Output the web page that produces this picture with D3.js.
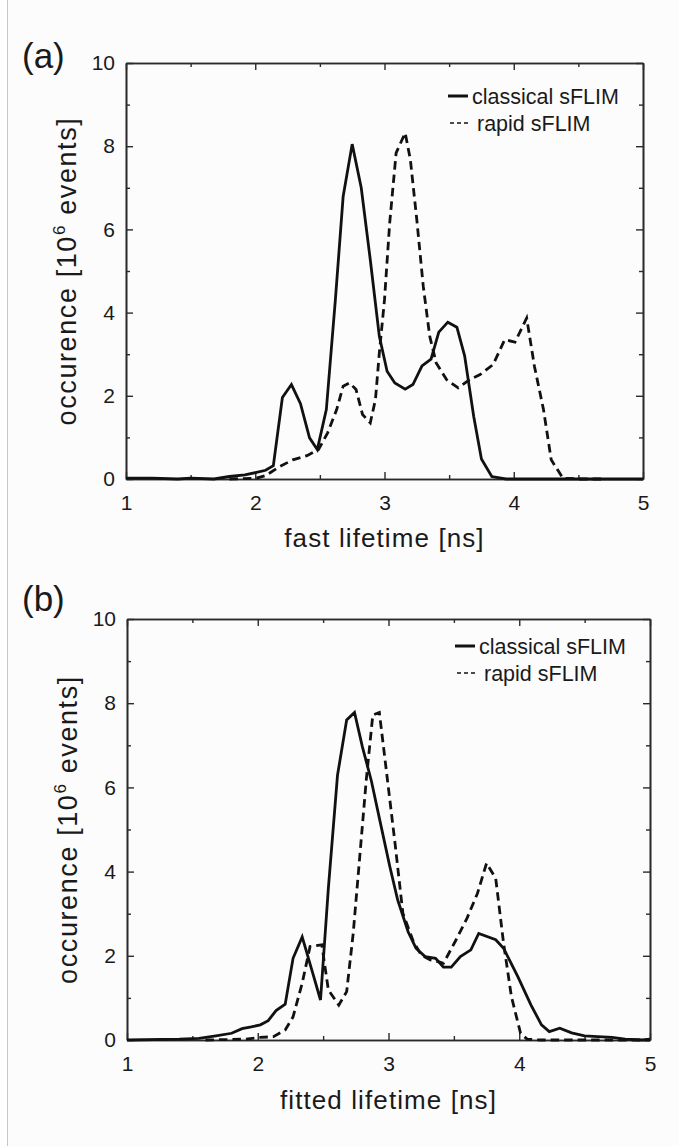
<!DOCTYPE html>
<html lang="en">
  <head>
    <meta charset="UTF-8" />
    <title>sFLIM lifetime histograms</title>
    <style>
      body { margin: 0; background: #ffffff; }
      text { font-family: "Liberation Sans", Arial, sans-serif; fill: #1a1a1a; }
    </style>
  </head>
  <body>
    <div id="chart"></div>
    <script src="https://d3js.org/d3.v7.min.js"></script>
    <script>
      // tick values
      var xTicks = [1, 2, 3, 4, 5];
      var xMinor = [1.5, 2.5, 3.5, 4.5];
      var yTicks = [0, 2, 4, 6, 8, 10];
      var yMinor = [1, 3, 5, 7, 9];
      var seriesNames = ["classical sFLIM", "rapid sFLIM"];

      // (a) fast lifetime
      var aClassicalT = [1.0, 1.2, 1.4, 1.5, 1.68, 1.8, 1.92, 2.01, 2.08, 2.14, 2.21, 2.28, 2.35, 2.42, 2.48, 2.55, 2.62, 2.68, 2.75, 2.82, 2.89, 2.96, 3.02, 3.08, 3.16, 3.22, 3.29, 3.36, 3.42, 3.49, 3.56, 3.62, 3.69, 3.75, 3.83, 3.94, 4.2, 5.0];
      var aClassicalV = [0.02, 0.02, 0.0, 0.02, 0.0, 0.06, 0.1, 0.16, 0.21, 0.32, 1.96, 2.27, 1.81, 0.99, 0.71, 1.67, 4.31, 6.79, 8.05, 7.0, 5.27, 3.43, 2.59, 2.31, 2.16, 2.27, 2.72, 2.88, 3.53, 3.77, 3.65, 2.96, 1.51, 0.48, 0.06, 0.0, 0.0, 0.0];
      var aRapidT = [1.8, 2.01, 2.08, 2.19, 2.29, 2.4, 2.49, 2.56, 2.63, 2.68, 2.73, 2.78, 2.83, 2.89, 2.93, 2.96, 3.0, 3.04, 3.09, 3.16, 3.2, 3.25, 3.3, 3.35, 3.4, 3.48, 3.57, 3.66, 3.74, 3.84, 3.93, 4.01, 4.1, 4.16, 4.23, 4.29, 4.38, 4.51, 4.7];
      var aRapidV = [0.0, 0.02, 0.08, 0.3, 0.46, 0.56, 0.71, 1.11, 1.67, 2.23, 2.31, 2.15, 1.55, 1.35, 1.91, 3.03, 4.31, 6.15, 7.84, 8.32, 7.68, 6.23, 4.63, 3.43, 2.79, 2.39, 2.19, 2.39, 2.51, 2.75, 3.35, 3.29, 3.87, 2.71, 1.67, 0.46, 0.02, 0.0, 0.0];

      // (b) fitted lifetime
      var bClassicalT = [1.0, 1.4, 1.55, 1.68, 1.8, 1.88, 1.95, 2.02, 2.08, 2.14, 2.21, 2.27, 2.34, 2.41, 2.48, 2.54, 2.61, 2.68, 2.74, 2.8, 2.87, 2.93, 3.01, 3.07, 3.15, 3.21, 3.28, 3.36, 3.42, 3.48, 3.55, 3.63, 3.69, 3.82, 3.88, 3.99, 4.09, 4.17, 4.23, 4.31, 4.4, 4.5, 4.6, 4.71, 4.81, 4.94, 5.0];
      var bClassicalV = [0.0, 0.02, 0.04, 0.1, 0.16, 0.27, 0.31, 0.36, 0.46, 0.7, 0.85, 1.94, 2.45, 1.7, 0.95, 3.6, 6.29, 7.6, 7.78, 6.97, 6.14, 5.27, 4.12, 3.33, 2.57, 2.18, 1.98, 1.94, 1.73, 1.73, 1.98, 2.14, 2.53, 2.38, 2.18, 1.5, 0.83, 0.36, 0.2, 0.28, 0.17, 0.1, 0.08, 0.06, 0.02, 0.0, 0.02];
      var bRapidT = [1.6, 1.91, 2.02, 2.12, 2.21, 2.27, 2.34, 2.4, 2.49, 2.54, 2.62, 2.68, 2.73, 2.78, 2.83, 2.88, 2.93, 2.98, 3.05, 3.11, 3.19, 3.25, 3.32, 3.38, 3.42, 3.51, 3.6, 3.68, 3.75, 3.82, 3.88, 3.94, 4.01, 4.06, 4.16, 5.0];
      var bRapidV = [0.0, 0.02, 0.06, 0.08, 0.24, 0.55, 1.35, 2.22, 2.26, 1.19, 0.83, 1.15, 2.53, 4.35, 6.18, 7.72, 7.78, 6.49, 4.67, 3.01, 2.34, 2.02, 1.9, 1.86, 1.82, 2.34, 2.89, 3.48, 4.2, 3.84, 2.3, 1.03, 0.16, 0.02, 0.0, 0.0];

      var W = 679, H = 1146;

      var svg = d3
        .select("#chart")
        .append("svg")
        .attr("width", W)
        .attr("height", H);

      // page background + thin grey rule at the left edge
      svg.append("rect").attr("x", 7).attr("y", 0).attr("width", W - 7).attr("height", H).attr("fill", "#fcfcfc");
      svg.append("line").attr("x1", 7.5).attr("x2", 7.5).attr("y1", 0).attr("y2", H)
        .attr("stroke", "#c8c8c8").attr("stroke-width", 1);

      const drawPanel = (p) => {
        var width = p.right - p.left,
          height = p.bottom - p.top;

        var g = svg.append("g").attr("transform", "translate(" + p.left + "," + p.top + ")");

        var x = d3.scaleLinear().domain([1, 5]).range([0, width]);
        var y = d3.scaleLinear().domain([0, 10]).range([height, 0]);

        // axes, ticks pointing inward on all four sides
        g.append("g").attr("transform", "translate(0," + height + ")")
          .call(d3.axisBottom(x).tickValues(xTicks).tickFormat(d3.format("d")).tickSizeInner(-7).tickSizeOuter(0).tickPadding(16));
        g.append("g").attr("transform", "translate(0," + height + ")")
          .call(d3.axisBottom(x).tickValues(xMinor).tickFormat("").tickSizeInner(-4).tickSizeOuter(0));
        g.append("g")
          .call(d3.axisLeft(y).tickValues(yTicks).tickFormat(d3.format("d")).tickSizeInner(-7).tickSizeOuter(0).tickPadding(11));
        g.append("g").call(d3.axisLeft(y).tickValues(yMinor).tickFormat("").tickSizeInner(-4).tickSizeOuter(0));
        g.append("g").call(d3.axisTop(x).tickValues(xTicks).tickFormat("").tickSizeInner(-7).tickSizeOuter(0));
        g.append("g").call(d3.axisTop(x).tickValues(xMinor).tickFormat("").tickSizeInner(-4).tickSizeOuter(0));
        g.append("g").attr("transform", "translate(" + width + ",0)")
          .call(d3.axisRight(y).tickValues(yTicks).tickFormat("").tickSizeInner(-7).tickSizeOuter(0));
        g.append("g").attr("transform", "translate(" + width + ",0)")
          .call(d3.axisRight(y).tickValues(yMinor).tickFormat("").tickSizeInner(-4).tickSizeOuter(0));

        g.selectAll(".domain").attr("stroke", "#2a2a2a").attr("stroke-width", 1.6);
        g.selectAll(".tick line").attr("stroke", "#2a2a2a").attr("stroke-width", 1.4);
        g.selectAll(".tick text").attr("font-size", 21).attr("font-family", null).attr("fill", "#1a1a1a");

        // curves
        var line = d3.line()
          .x(function (d) { return x(d[0]); })
          .y(function (d) { return y(d[1]); });

        g.append("path")
          .datum(d3.zip(p.classicalT, p.classicalV))
          .attr("fill", "none")
          .attr("stroke", "#111")
          .attr("stroke-width", 2.8)
          .attr("d", line);

        g.append("path")
          .datum(d3.zip(p.rapidT, p.rapidV))
          .attr("fill", "none")
          .attr("stroke", "#111")
          .attr("stroke-width", 2.8)
          .attr("stroke-dasharray", "8.5,5")
          .attr("d", line);

        // legend
        var lx = width - 195;
        g.append("line").attr("x1", lx).attr("x2", lx + 20).attr("y1", p.leg1).attr("y2", p.leg1)
          .attr("stroke", "#111").attr("stroke-width", 3);
        g.append("text").attr("x", lx + 24).attr("y", p.leg1).attr("dy", "0.35em")
          .attr("font-size", 21.5).text(seriesNames[0]);
        g.append("line").attr("x1", lx + 2).attr("x2", lx + 20).attr("y1", p.leg2).attr("y2", p.leg2)
          .attr("stroke", "#111").attr("stroke-width", 1.6).attr("stroke-dasharray", "4,3");
        g.append("text").attr("x", lx + 29).attr("y", p.leg2).attr("dy", "0.35em")
          .attr("font-size", 21.5).text(seriesNames[1]);

        // axis titles
        g.append("text")
          .attr("x", width / 2)
          .attr("y", height + p.xTitleDy)
          .attr("text-anchor", "middle")
          .attr("font-size", 26)
          .attr("letter-spacing", 1.1)
          .text(p.xTitle);

        var yt = g.append("text")
          .attr("transform", "translate(-50," + height / 2 + ")rotate(-90)")
          .attr("text-anchor", "middle")
          .attr("font-size", 27)
          .attr("letter-spacing", 1.6);
        yt.append("tspan").text("occurence [10");
        yt.append("tspan").attr("font-size", 17).attr("dy", -11).text("6");
        yt.append("tspan").attr("dy", 11).text(" events]");

        // panel letter
        svg.append("text")
          .attr("x", 22)
          .attr("y", p.letterY)
          .attr("font-size", 35)
          .text(p.letter);
      };

      drawPanel({
        left: 126, right: 643, top: 63, bottom: 479,
        classicalT: aClassicalT, classicalV: aClassicalV,
        rapidT: aRapidT, rapidV: aRapidV,
        leg1: 33, leg2: 60,
        xTitle: "fast lifetime [ns]", xTitleDy: 68,
        letter: "(a)", letterY: 68
      });

      drawPanel({
        left: 127, right: 650, top: 619, bottom: 1040,
        classicalT: bClassicalT, classicalV: bClassicalV,
        rapidT: bRapidT, rapidV: bRapidV,
        leg1: 27, leg2: 54,
        xTitle: "fitted lifetime [ns]", xTitleDy: 69,
        letter: "(b)", letterY: 611
      });
    </script>
  </body>
</html>
